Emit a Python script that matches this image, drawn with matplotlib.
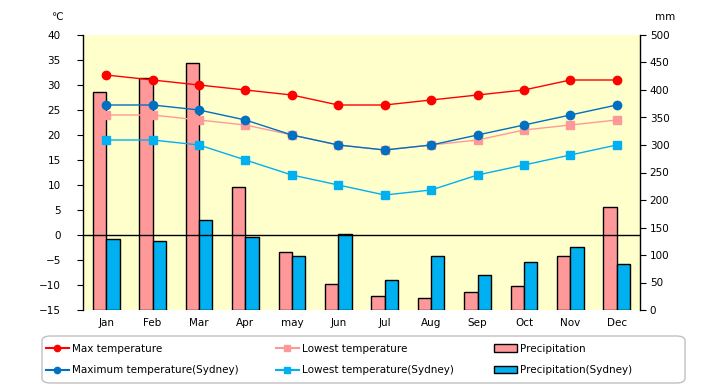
import matplotlib as mpl
from matplotlib import pyplot as plt
from matplotlib.patches import FancyBboxPatch
from matplotlib.lines import Line2D
from matplotlib.patches import Patch
import numpy as np

MONTHS = ["Jan", "Feb", "Mar", "Apr", "may", "Jun", "Jul", "Aug", "Sep", "Oct", "Nov", "Dec"]
MAX_TEMP = [32, 31, 30, 29, 28, 26, 26, 27, 28, 29, 31, 31]
LOW_TEMP = [24, 24, 23, 22, 20, 18, 17, 18, 19, 21, 22, 23]
MAX_TEMP_SYD = [26, 26, 25, 23, 20, 18, 17, 18, 20, 22, 24, 26]
LOW_TEMP_SYD = [19, 19, 18, 15, 12, 10, 8, 9, 12, 14, 16, 18]
PRECIP = [396, 421, 449, 223, 105, 48, 25, 21, 32, 43, 99, 188]
PRECIP_SYD = [130, 125, 163, 132, 99, 139, 54, 98, 63, 87, 114, 83]

C_MAX = "#ff0000"
C_LOW = "#ff9999"
C_MAX_SYD = "#0070c0"
C_LOW_SYD = "#00b0f0"
C_BAR = "#ff9999"
C_BAR_SYD = "#00b0f0"

mpl.rcParams["font.family"] = "DejaVu Sans"
mpl.rcParams["font.size"] = 7.5


def main():
    fig = plt.figure(figsize=(7.2, 3.85), dpi=100)
    ax2 = fig.add_axes([83 / 720, 1 - 310 / 385, 557 / 720, 275 / 385])
    ax = ax2.twinx()
    ax2.set_facecolor("#ffffcc")
    ax.patch.set_visible(False)

    x = np.arange(len(MONTHS))
    w = 0.287
    # precipitation bars on the mm axis (drawn by ax2, which sits on the right)
    ax2.bar(x - w / 2, PRECIP, width=w, color=C_BAR, edgecolor="black", linewidth=1, zorder=2)
    ax2.bar(x + w / 2, PRECIP_SYD, width=w, color=C_BAR_SYD, edgecolor="black", linewidth=1, zorder=2)
    ax2.set_ylim(0, 500)
    ax2.set_yticks(np.arange(0, 501, 50))
    ax2.yaxis.tick_right()
    ax2.yaxis.set_label_position("right")

    ax.axhline(0, color="black", linewidth=1, zorder=1)
    ax.plot(x, MAX_TEMP, color=C_MAX, marker="o", markersize=6, linewidth=1, zorder=5)
    ax.plot(x, LOW_TEMP, color=C_LOW, marker="s", markersize=6, linewidth=1, zorder=4)
    ax.plot(x, MAX_TEMP_SYD, color=C_MAX_SYD, marker="o", markersize=6, linewidth=1, zorder=5)
    ax.plot(x, LOW_TEMP_SYD, color=C_LOW_SYD, marker="s", markersize=6, linewidth=1, zorder=4)
    ax.set_ylim(-15, 40)
    ax.set_yticks(np.arange(-15, 41, 5))
    ax.yaxis.tick_left()
    ax.set_xlim(-0.5, 11.5)

    ax2.set_xticks(x)
    ax2.set_xticklabels(MONTHS)
    ax2.tick_params(axis="x", length=0, pad=6)
    ax2.tick_params(axis="y", direction="out", length=4, pad=3)
    ax.tick_params(axis="y", direction="out", length=4, pad=12)

    for a in (ax, ax2):
        a.spines["top"].set_visible(False)
        a.spines["bottom"].set_visible(False)
    ax.spines["right"].set_visible(False)
    ax2.spines["left"].set_visible(False)
    ax.spines["left"].set_linewidth(1)
    ax2.spines["right"].set_linewidth(1)

    fig.text(57 / 720, 1 - 17 / 385, "℃", ha="center", va="center")
    fig.text(665 / 720, 1 - 17 / 385, "mm", ha="center", va="center")

    # legend frame
    box = FancyBboxPatch((42 / 720, 1 - 383 / 385), 643 / 720, 47 / 385,
                         boxstyle="round,pad=0,rounding_size=0.012",
                         transform=fig.transFigure, facecolor="white",
                         edgecolor="#c0c0c0", linewidth=1)
    fig.patches.append(box)
    columns = [
        (46, [Line2D([], [], color=C_MAX, marker="o", markersize=4.5),
              Line2D([], [], color=C_MAX_SYD, marker="o", markersize=4.5)],
         ["Max temperature", "Maximum temperature(Sydney)"]),
        (276, [Line2D([], [], color=C_LOW, marker="s", markersize=4.5),
               Line2D([], [], color=C_LOW_SYD, marker="s", markersize=4.5)],
         ["Lowest temperature", "Lowest temperature(Sydney)"]),
        (494, [Patch(facecolor=C_BAR, edgecolor="black"),
               Patch(facecolor=C_BAR_SYD, edgecolor="black")],
         ["Precipitation", "Precipitation(Sydney)"]),
    ]
    for xpos, hs, ls in columns:
        fig.legend(hs, ls, loc="center left",
                   bbox_to_anchor=(xpos / 720, 1 - 359.5 / 385), frameon=False,
                   handlelength=2.2, handletextpad=0.3, labelspacing=1.1,
                   borderpad=0, borderaxespad=0)

    plt.savefig("out.png", dpi=100)
    plt.close()


if __name__ == "__main__":
    main()
